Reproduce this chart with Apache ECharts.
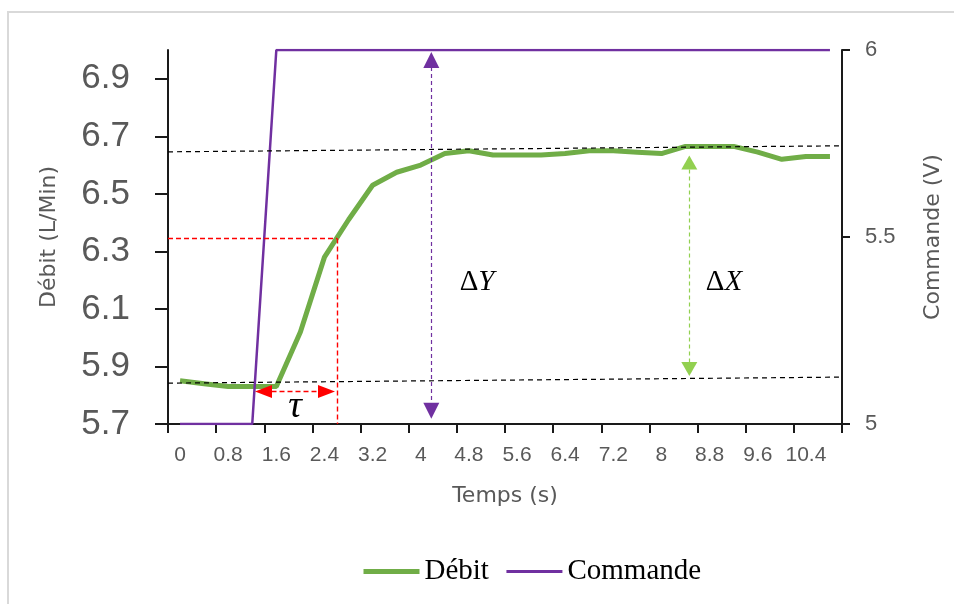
<!DOCTYPE html>
<html><head><meta charset="utf-8">
<script src="https://cdn.jsdelivr.net/npm/echarts@6/dist/echarts.min.js"></script>
<style>html,body{margin:0;padding:0;background:#fff}#c{width:954px;height:604px}</style>
</head><body><div id="c"></div>
<script>
const timeLabels = ['0','0.4','0.8','1.2','1.6','2','2.4','2.8','3.2','3.6','4','4.4','4.8','5.2','5.6','6','6.4','6.8','7.2','7.6','8','8.4','8.8','9.2','9.6','10','10.4','10.8'];
const debit = [5.85,5.84,5.83,5.83,5.83,6.02,6.28,6.41,6.53,6.575,6.60,6.64,6.65,6.635,6.635,6.635,6.64,6.65,6.65,6.645,6.64,6.665,6.665,6.665,6.645,6.62,6.63,6.63];
const commande = [5,5,5,5,6,6,6,6,6,6,6,6,6,6,6,6,6,6,6,6,6,6,6,6,6,6,6,6];
const debitTicks = [5.7,5.9,6.1,6.3,6.5,6.7,6.9];
const baseLine = [[-0.2,5.842],[11.0,5.863]];
const finalLine = [[-0.2,6.646],[11.0,6.667]];
const level63 = 6.345;
const tau = 2.61;
const tauArrow = [[1.387,5.813],[2.434,5.813]];
const deltaYArrow = [[4.175,6.965],[4.175,5.746]];
const deltaXArrow = [[8.463,6.609],[8.463,5.891]];
const posDeltaY = [4.935,6.192];
const posDeltaX = [9.039,6.192];
const posTau = [1.91,5.759];
const posPct = [-0.715,6.404];

const GREEN = '#70AD47', PURPLE = '#7030A0', LGREEN = '#92D050', GRAY = '#595959';
const axisLine = {show:true, onZero:false, lineStyle:{color:'#1a1a1a', width:2}};

function seg(a, b, s0, s1, size) {
  return [{coord:a, symbol:s0||'none', symbolSize:size||1}, {coord:b, symbol:s1||'none', symbolSize:size||1}];
}
function annot(name, color, dash, data, width) {
  return {name:name, type:'line', xAxisIndex:1, yAxisIndex:0, data:[], clip:false, silent:true,
    markLine:{silent:true, symbol:'none', animation:false, label:{show:false}, emphasis:{disabled:true},
      lineStyle:{color:color, type:dash, width:width||1.2}, data:data}};
}
function txt(pos, fmt, rich) {
  return {coord:pos, value:0, symbol:'circle', symbolSize:1, itemStyle:{color:'rgba(0,0,0,0)'},
    label:{show:true, position:'inside', formatter:fmt, rich:rich}};
}
const deltaRich = {n:{fontFamily:'Liberation Serif', fontSize:29, color:'#000'}, i:{fontFamily:'Liberation Serif', fontStyle:'italic', fontSize:29, color:'#000'}};

const chart = echarts.init(document.getElementById('c'));
chart.setOption({
  animation:false,
  backgroundColor:'#fff',
  graphic:[{type:'rect', silent:true, z:-10, shape:{x:8,y:12,width:990,height:640}, style:{fill:'none', stroke:'#d9d9d9', lineWidth:2}}],
  grid:{left:168, right:112, top:50, bottom:180},
  legend:{left:356, top:552, itemWidth:56, itemHeight:14, itemGap:16,
    itemStyle:{opacity:0},
    data:[{name:'Débit', lineStyle:{width:5}}, {name:'Commande', lineStyle:{width:3}}],
    textStyle:{fontFamily:'Liberation Serif', fontSize:29, color:'#000'}},
  xAxis:[
    {type:'category', data:timeLabels, boundaryGap:true, axisLine:axisLine,
     axisTick:{show:true, interval:1, length:9, lineStyle:{color:'#1a1a1a', width:2}},
     axisLabel:{interval:1, margin:21, fontFamily:'Liberation Sans', fontSize:21, color:GRAY},
     name:'Temps (s)', nameLocation:'middle', nameGap:61, nameTextStyle:{fontFamily:'DejaVu Sans', fontSize:22, color:GRAY, verticalAlign:'top'}},
    {type:'value', min:-0.2, max:11.0, show:false}
  ],
  yAxis:[
    {type:'value', min:5.7, max:7.0, position:'left', splitLine:{show:false}, axisLine:axisLine,
     axisTick:{show:true, customValues:debitTicks, length:13, lineStyle:{color:'#1a1a1a', width:2}},
     axisLabel:{customValues:debitTicks, margin:38, fontFamily:'Liberation Sans', fontSize:35, color:GRAY},
     name:'Débit (L/Min)', nameLocation:'middle', nameGap:108, nameRotate:90, nameTextStyle:{fontFamily:'DejaVu Sans', fontSize:22, color:GRAY}},
    {type:'value', min:5, max:6, interval:0.5, position:'right', splitLine:{show:false}, axisLine:axisLine,
     axisTick:{show:true, length:8, lineStyle:{color:'#1a1a1a', width:2}},
     axisLabel:{margin:23, fontFamily:'Liberation Sans', fontSize:22, color:GRAY},
     name:'Commande (V)', nameLocation:'middle', nameGap:80, nameRotate:90, nameTextStyle:{fontFamily:'DejaVu Sans', fontSize:22, color:GRAY}}
  ],
  series:[
    {name:'Débit', type:'line', xAxisIndex:0, yAxisIndex:0, data:debit, symbol:'none', showSymbol:false,
     lineStyle:{color:GREEN, width:5}, itemStyle:{color:GREEN}},
    {name:'Commande', type:'line', xAxisIndex:0, yAxisIndex:1, data:commande, symbol:'none', showSymbol:false,
     lineStyle:{color:PURPLE, width:2.5}, itemStyle:{color:PURPLE}},
    annot('a1', '#000', [5,4], [seg(baseLine[0], baseLine[1]), seg(finalLine[0], finalLine[1])]),
    annot('a2', '#ff0000', [5,3], [
      seg([-0.2, level63], [tau, level63]),
      seg([tau, level63], [tau, 5.7]),
      seg(tauArrow[0], tauArrow[1], 'triangle', 'triangle', [13,17])
    ], 1.4),
    annot('a3', PURPLE, [4,3], [seg(deltaYArrow[0], deltaYArrow[1], 'triangle', 'triangle', [16,16])]),
    annot('a4', LGREEN, [4,3], [seg(deltaXArrow[0], deltaXArrow[1], 'triangle', 'triangle', [16,14])]),
    {name:'labels', type:'line', xAxisIndex:1, yAxisIndex:0, data:[], clip:false, silent:true,
     markPoint:{silent:true, animation:false, data:[
       txt(posDeltaY, '{n|Δ}{i|Y}', deltaRich),
       txt(posDeltaX, '{n|Δ}{i|X}', deltaRich),
       txt(posTau, '{t|τ}', {t:{fontFamily:'Liberation Serif', fontStyle:'italic', fontSize:38, color:'#000'}}),
       txt(posPct, '{p|63%}', {p:{fontFamily:'Liberation Sans', fontSize:23, color:'#ff0000'}})
     ]}}
  ]
});
</script></body></html>
